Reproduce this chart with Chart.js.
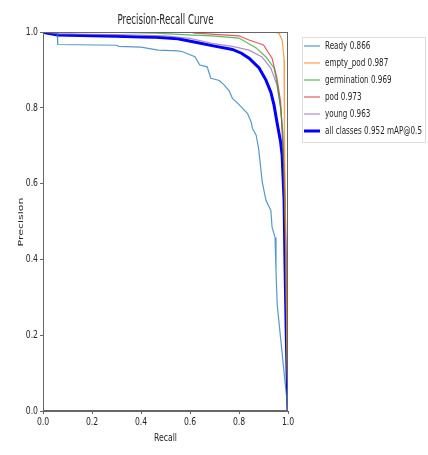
<!DOCTYPE html>
<html>
<head>
<meta charset="utf-8">
<script src="https://cdn.jsdelivr.net/npm/chart.js@4.4.1/dist/chart.umd.min.js"></script>
<style>
html,body{margin:0;padding:0;background:#fff;}
canvas{display:block;}
</style>
</head>
<body>
<canvas id="c" width="428" height="455"></canvas>
<script>
// ---- data ----
const classNames = ['Ready', 'empty_pod', 'germination', 'pod', 'young'];
const classAP = [0.866, 0.987, 0.969, 0.973, 0.963];
const allClassesLabel = 'all classes 0.952 mAP@0.5';
const axisTicks = [0.0, 0.2, 0.4, 0.6, 0.8, 1.0];

const readyRecall    = [0, 0.058, 0.06, 0.3, 0.31, 0.4, 0.47, 0.55, 0.57, 0.62, 0.64, 0.67, 0.685, 0.72, 0.74, 0.76, 0.773, 0.79, 0.813, 0.835, 0.85, 0.855, 0.87, 0.88, 0.895, 0.91, 0.93, 0.935, 0.947, 0.951, 0.956, 1.0];
const readyPrecision = [1.0, 1.0, 0.967, 0.965, 0.962, 0.960, 0.952, 0.950, 0.948, 0.935, 0.913, 0.908, 0.878, 0.872, 0.86, 0.845, 0.825, 0.815, 0.80, 0.785, 0.762, 0.745, 0.728, 0.693, 0.604, 0.556, 0.529, 0.485, 0.458, 0.37, 0.28, 0.0];

const emptyRecall    = [0, 0.8, 0.94, 0.963, 0.976, 0.981, 0.984, 0.985, 0.986, 0.99, 0.995, 1.0];
const emptyPrecision = [1.0, 1.0, 1.0, 0.997, 0.979, 0.95, 0.926, 0.8, 0.72, 0.5, 0.2, 0.0];

const germRecall     = [0, 0.3, 0.46, 0.61, 0.69, 0.8, 0.87, 0.91, 0.943, 0.955, 0.97, 0.978, 0.985, 0.99, 0.995, 1.0];
const germPrecision  = [1.0, 0.999, 0.997, 0.992, 0.99, 0.984, 0.958, 0.934, 0.905, 0.865, 0.80, 0.74, 0.6, 0.45, 0.2, 0.0];

const podRecall      = [0, 0.6, 0.62, 0.8, 0.841, 0.9, 0.935, 0.955, 0.97, 0.976, 0.982, 0.988, 0.993, 1.0];
const podPrecision   = [1.0, 1.0, 0.997, 0.99, 0.979, 0.966, 0.931, 0.878, 0.815, 0.733, 0.65, 0.5, 0.3, 0.0];

const youngRecall    = [0, 0.06, 0.3, 0.5, 0.6, 0.69, 0.773, 0.841, 0.894, 0.93, 0.955, 0.97, 0.978, 0.985, 0.99, 0.995, 1.0];
const youngPrecision = [1.0, 0.995, 0.993, 0.99, 0.983, 0.97, 0.962, 0.952, 0.934, 0.905, 0.86, 0.80, 0.74, 0.65, 0.5, 0.3, 0.0];

const allRecall      = [0, 0.01, 0.06, 0.2, 0.3, 0.4, 0.46, 0.55, 0.638, 0.69, 0.773, 0.81, 0.841, 0.882, 0.91, 0.93, 0.943, 0.955, 0.97, 0.976, 0.984, 0.988, 0.993, 0.997, 1.0];
const allPrecision   = [1.0, 0.998, 0.992, 0.99, 0.989, 0.987, 0.986, 0.982, 0.971, 0.964, 0.954, 0.944, 0.931, 0.905, 0.873, 0.841, 0.807, 0.762, 0.709, 0.675, 0.556, 0.38, 0.2, 0.08, 0.0];

// ---- build datasets ----
const classColors = ['rgba(31,119,180,0.75)', 'rgba(255,127,14,0.75)', 'rgba(44,160,44,0.75)', 'rgba(214,39,40,0.75)', 'rgba(148,103,189,0.75)'];
const pairs = (xs, ys) => xs.map((x, i) => ({x: x, y: ys[i]}));
const classSeries = [
  pairs(readyRecall, readyPrecision),
  pairs(emptyRecall, emptyPrecision),
  pairs(germRecall, germPrecision),
  pairs(podRecall, podPrecision),
  pairs(youngRecall, youngPrecision)
];
const datasets = classSeries.map((d, i) => ({
  label: classNames[i] + ' ' + classAP[i].toFixed(3),
  data: d,
  borderColor: classColors[i],
  borderWidth: 1.2,
  pointRadius: 0,
  tension: 0,
  fill: false
}));
datasets.push({
  label: allClassesLabel,
  data: pairs(allRecall, allPrecision),
  borderColor: '#0000ff',
  borderWidth: 3,
  pointRadius: 0,
  tension: 0,
  fill: false
});

const FONT = '"DejaVu Sans", sans-serif';
const TEXT = '#262626';
const SX = 0.7; // horizontal squeeze of the reference's text

function squeezedText(ctx, str, x, y, sx) {
  ctx.save();
  ctx.translate(x, y);
  ctx.scale(sx, 1);
  ctx.fillText(str, 0, 0);
  ctx.restore();
}

const decor = {
  id: 'decor',
  beforeDraw(chart) {
    const ctx = chart.ctx;
    ctx.save();
    ctx.fillStyle = '#ffffff';
    ctx.fillRect(0, 0, chart.width, chart.height);
    ctx.restore();
  },
  afterDraw(chart) {
    const ctx = chart.ctx;
    const a = chart.chartArea;
    const xs = chart.scales.x, ys = chart.scales.y;
    ctx.save();
    // frame
    ctx.strokeStyle = '#666666';
    ctx.lineWidth = 1;
    ctx.strokeRect(a.left + 0.5, a.top + 0.5, a.right - a.left - 1, a.bottom - a.top - 1);
    ctx.fillStyle = TEXT;
    // tick labels
    ctx.font = '11px ' + FONT;
    ctx.textBaseline = 'middle';
    ctx.textAlign = 'right';
    axisTicks.forEach(v => squeezedText(ctx, v.toFixed(1), 38, ys.getPixelForValue(v), SX));
    ctx.textAlign = 'center';
    axisTicks.forEach(v => squeezedText(ctx, v.toFixed(1), xs.getPixelForValue(v), 422, SX));
    // title
    ctx.font = '14px ' + FONT;
    const tw = ctx.measureText('Precision-Recall Curve').width;
    squeezedText(ctx, 'Precision-Recall Curve', (a.left + a.right) / 2, 20, 96 / tw);
    // axis titles
    ctx.font = '11px ' + FONT;
    squeezedText(ctx, 'Recall', (a.left + a.right) / 2, 438, SX);
    ctx.save();
    ctx.translate(21, 222);
    ctx.rotate(-Math.PI / 2);
    ctx.scale(1, SX);
    ctx.fillText('Precision', 0, 0);
    ctx.restore();
    // legend
    const lx = 302, ly = 37, lw = 123, lh = 105;
    ctx.fillStyle = '#ffffff';
    ctx.strokeStyle = '#dddddd';
    ctx.lineWidth = 1;
    ctx.beginPath();
    ctx.rect(lx + 0.5, ly + 0.5, lw, lh);
    ctx.fill();
    ctx.stroke();
    ctx.font = '11px ' + FONT;
    ctx.textAlign = 'left';
    ctx.textBaseline = 'middle';
    const lsx = 97 / ctx.measureText(allClassesLabel).width;
    chart.data.datasets.forEach((ds, i) => {
      const y = 46 + i * 17;
      ctx.strokeStyle = ds.borderColor;
      ctx.lineWidth = ds.borderWidth;
      ctx.beginPath();
      ctx.moveTo(304, y);
      ctx.lineTo(320, y);
      ctx.stroke();
      ctx.fillStyle = TEXT;
      squeezedText(ctx, ds.label, 325, y, lsx);
    });
    ctx.restore();
  }
};

new Chart(document.getElementById('c'), {
  type: 'line',
  data: {datasets: datasets},
  options: {
    responsive: false,
    animation: false,
    devicePixelRatio: 1,
    layout: {padding: {left: 0, top: 32, right: 140, bottom: 0}},
    plugins: {legend: {display: false}, tooltip: {enabled: false}, title: {display: false}},
    scales: {
      x: {
        type: 'linear', min: 0, max: 1,
        afterFit(s) { s.height = 44; },
        afterBuildTicks(s) { s.ticks = axisTicks.map(v => ({value: v})); },
        grid: {drawOnChartArea: false, drawTicks: true, tickLength: 3, color: '#666666'},
        border: {display: true, color: '#666666'},
        ticks: {display: false}
      },
      y: {
        type: 'linear', min: 0, max: 1,
        afterFit(s) { s.width = 43; },
        afterBuildTicks(s) { s.ticks = axisTicks.map(v => ({value: v})); },
        grid: {drawOnChartArea: false, drawTicks: true, tickLength: 3, color: '#666666'},
        border: {display: true, color: '#666666'},
        ticks: {display: false}
      }
    }
  },
  plugins: [decor]
});
</script>
</body>
</html>
